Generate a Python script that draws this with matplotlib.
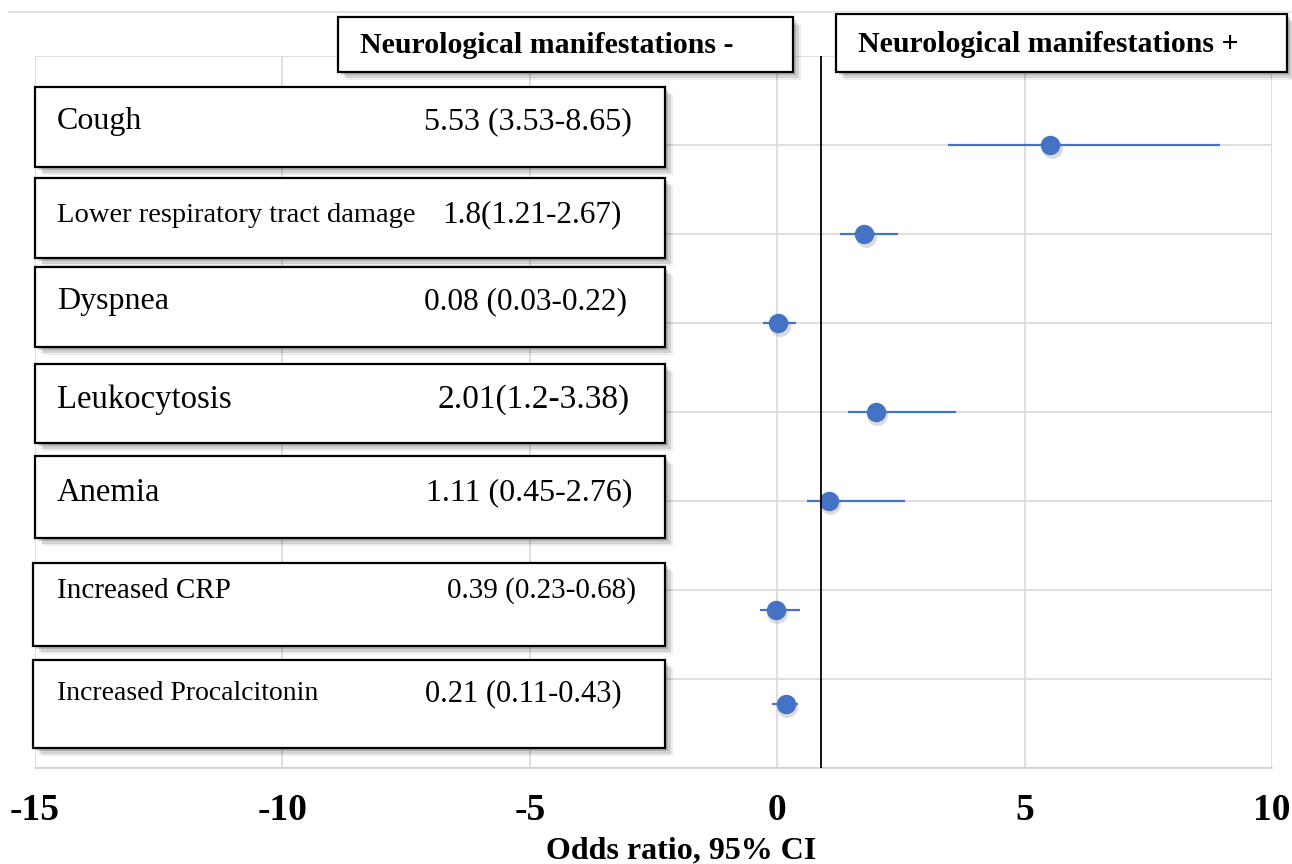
import matplotlib

matplotlib.use("Agg")
import matplotlib.pyplot as plt
import matplotlib.patheffects as pe
import matplotlib.transforms as mtransforms
from matplotlib.lines import Line2D
from matplotlib.patches import Rectangle

plt.rcParams["font.family"] = ["Liberation Serif", "DejaVu Serif"]

# data
labels = [
    "Cough",
    "Lower respiratory tract damage",
    "Dyspnea",
    "Leukocytosis",
    "Anemia",
    "Increased CRP",
    "Increased Procalcitonin",
]
value_texts = [
    "5.53 (3.53-8.65)",
    "1.8(1.21-2.67)",
    "0.08 (0.03-0.22)",
    "2.01(1.2-3.38)",
    "1.11 (0.45-2.76)",
    "0.39 (0.23-0.68)",
    "0.21 (0.11-0.43)",
]
point_x = [5.52, 1.76, 0.02, 1.99, 1.04, -0.03, 0.17]
ci_low = [3.46, 1.26, -0.29, 1.44, 0.60, -0.34, -0.11]
ci_high = [8.95, 2.45, 0.39, 3.62, 2.59, 0.47, 0.43]
row_y = [7, 6, 5, 4, 3, 1.78, 0.72]
ref_line_x = 0.88
x_ticks = [-15, -10, -5, 0, 5, 10]
header_left = "Neurological manifestations -"
header_right = "Neurological manifestations +"
x_title = "Odds ratio, 95% CI"

# layout of the text boxes, in pixels from the top-left corner
row_boxes = [
    (35, 87, 665, 167),
    (35, 178, 665, 258),
    (35, 267, 665, 347),
    (35, 364, 665, 443),
    (35, 456, 665, 538),
    (33, 563, 665, 646),
    (33, 660, 665, 748),
]
row_text_y = [122, 215, 302, 400, 493, 591, 694]
row_value_right = [632, 622, 627, 630, 632, 636, 622]
label_font = [23, 20.5, 23, 23.5, 23.5, 21, 20]
value_font = [23, 22.5, 22.5, 24, 23, 21, 22]
header_boxes = [(338, 17, 793, 72), (836, 14, 1287, 72)]

BLUE = "#4472C4"
W, H = 1292, 864

fig = plt.figure(figsize=(W / 100, H / 100), dpi=100)
ax = fig.add_axes([35 / W, 1 - 768 / H, (1272 - 35) / W, (768 - 56) / H])

ax.set_xlim(-15, 10)
ax.set_ylim(0, 8)
ax.set_xticks(x_ticks)
ax.set_xticklabels([str(t) for t in x_ticks], fontsize=27, fontweight="bold")
ax.set_yticks(range(0, 9))
ax.set_yticklabels([])
ax.tick_params(length=0, axis="x", pad=18)
ax.tick_params(length=0, axis="y")
ax.grid(True, color="#D9D9D9", linewidth=1.2)
ax.set_axisbelow(True)
for side in ["top", "right", "left"]:
    ax.spines[side].set_visible(False)
ax.spines["bottom"].set_color("#D0D0D0")
ax.spines["bottom"].set_linewidth(1.2)
ax.set_xlabel(x_title, fontsize=23, fontweight="bold")
ax.xaxis.set_label_coords(0.5226, -0.096)

# soft shadow under the points
shade = mtransforms.offset_copy(ax.transData, fig=fig, x=1.5, y=-3, units="dots")
ax.plot(point_x, row_y, "o", color="#9A9A9A", alpha=0.35, markersize=15,
        markeredgewidth=0, transform=shade, zorder=2.5)
ax.hlines(row_y, ci_low, ci_high, color=BLUE, linewidth=1.6, zorder=3)
ax.plot(point_x, row_y, "o", color=BLUE, markersize=14, markeredgewidth=0, zorder=4)
ax.axvline(ref_line_x, color="black", linewidth=1.3, zorder=5)

# overlay in pixel coordinates for the boxes
ov = fig.add_axes([0, 0, 1, 1], zorder=3)
ov.set_xlim(0, W)
ov.set_ylim(H, 0)
ov.axis("off")
ov.patch.set_alpha(0)

ov.add_line(Line2D([9, W], [12, 12], color="#E3E3E3", linewidth=1.5))

box_shadow = [
    pe.SimplePatchShadow(offset=(6, -6), shadow_rgbFace="black", alpha=0.07),
    pe.SimplePatchShadow(offset=(4, -4), shadow_rgbFace="black", alpha=0.11),
    pe.SimplePatchShadow(offset=(2, -2), shadow_rgbFace="black", alpha=0.16),
    pe.Normal(),
]


def draw_box(x0, y0, x1, y1):
    rect = Rectangle((x0, y0), x1 - x0, y1 - y0, facecolor="white",
                     edgecolor="black", linewidth=1.6, path_effects=box_shadow)
    ov.add_patch(rect)


for (x0, y0, x1, y1), text in zip(header_boxes, [header_left, header_right]):
    draw_box(x0, y0, x1, y1)
    ov.text(x0 + 22, (y0 + y1) / 2 + 1, text, fontsize=21.5, fontweight="bold",
            ha="left", va="center")

for i, label in enumerate(labels):
    x0, y0, x1, y1 = row_boxes[i]
    draw_box(x0, y0, x1, y1)
    ov.text(57, row_text_y[i], label, fontsize=label_font[i], ha="left", va="center")
    ov.text(row_value_right[i], row_text_y[i], value_texts[i], fontsize=value_font[i],
            ha="right", va="center")

fig.savefig("out.png", dpi=100)
